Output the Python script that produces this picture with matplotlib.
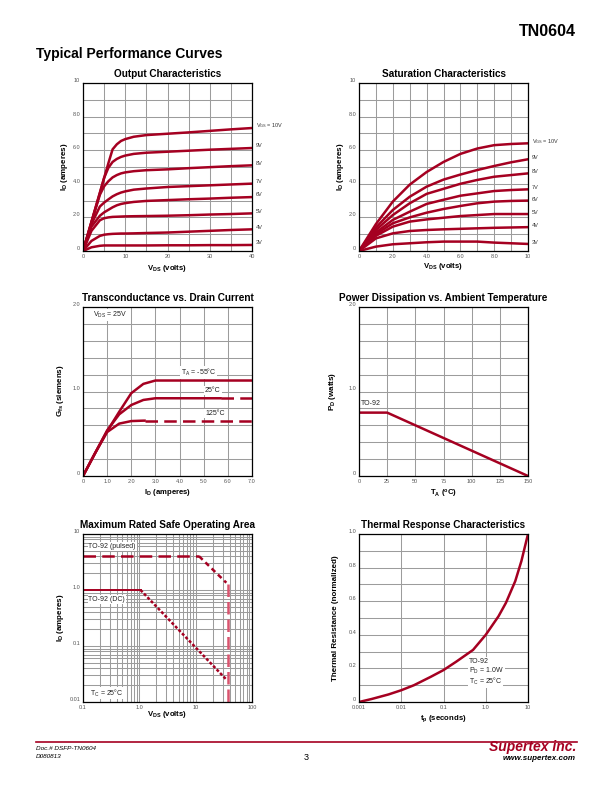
import numpy as np
import matplotlib
matplotlib.use('Agg')
import matplotlib.pyplot as plt
from matplotlib.lines import Line2D
from matplotlib.ticker import FixedLocator, FixedFormatter, NullLocator, NullFormatter

plt.rcParams['font.family'] = ['Liberation Sans', 'DejaVu Sans']
plt.rcParams['mathtext.fontset'] = 'custom'
plt.rcParams['mathtext.rm'] = 'Liberation Sans'
plt.rcParams['mathtext.it'] = 'Liberation Sans:italic'
plt.rcParams['mathtext.bf'] = 'Liberation Sans:bold'

# ---------------- data ----------------
# Output characteristics (I_D vs V_DS, several V_GS)
out_vds = [0, 2, 4, 5, 6, 7, 8, 9, 10, 12, 15, 20, 25, 30, 35, 40]
out_id_10v = [0, 1.74, 3.48, 4.35, 5.22, 6.05, 6.35, 6.55, 6.66, 6.80, 6.90, 6.98, 7.06, 7.15, 7.24, 7.32]
out_id_9v = [0, 1.72, 3.45, 4.35, 4.95, 5.30, 5.48, 5.60, 5.68, 5.78, 5.85, 5.91, 5.97, 6.03, 6.08, 6.13]
out_id_8v = [0, 1.70, 3.35, 3.85, 4.15, 4.38, 4.52, 4.62, 4.68, 4.75, 4.81, 4.86, 4.93, 4.99, 5.05, 5.10]
out_id_7v = [0, 1.60, 2.65, 2.88, 3.07, 3.25, 3.38, 3.48, 3.55, 3.65, 3.72, 3.81, 3.86, 3.91, 3.96, 4.01]
out_id_6v = [0, 1.45, 2.10, 2.30, 2.45, 2.60, 2.72, 2.80, 2.85, 2.92, 2.98, 3.03, 3.08, 3.12, 3.17, 3.21]
out_id_5v = [0, 1.20, 1.83, 1.95, 2.00, 2.03, 2.04, 2.05, 2.06, 2.07, 2.08, 2.10, 2.13, 2.17, 2.20, 2.24]
out_id_4v = [0, 0.60, 0.90, 0.97, 1.00, 1.02, 1.03, 1.04, 1.04, 1.05, 1.07, 1.10, 1.15, 1.20, 1.25, 1.29]
out_id_3v = [0, 0.22, 0.31, 0.33, 0.33, 0.33, 0.33, 0.33, 0.33, 0.33, 0.33, 0.34, 0.34, 0.35, 0.35, 0.36]
out_labels = ['V$_\\mathregular{GS}$ = 10V', '9V', '8V', '7V', '6V', '5V', '4V', '3V']

# Saturation characteristics
sat_vds = [0, 1, 2, 3, 4, 5, 6, 7, 8, 9, 10]
sat_id_10v = [0, 1.60, 2.94, 3.95, 4.70, 5.30, 5.78, 6.10, 6.30, 6.37, 6.41]
sat_id_9v = [0, 1.40, 2.44, 3.23, 3.83, 4.25, 4.55, 4.82, 5.06, 5.28, 5.46]
sat_id_8v = [0, 1.25, 2.14, 2.84, 3.40, 3.70, 4.00, 4.23, 4.42, 4.52, 4.62]
sat_id_7v = [0, 1.10, 1.85, 2.34, 2.80, 3.05, 3.29, 3.43, 3.57, 3.63, 3.67]
sat_id_6v = [0, 1.00, 1.65, 2.00, 2.28, 2.50, 2.68, 2.84, 2.94, 2.98, 3.00]
sat_id_5v = [0, 0.90, 1.45, 1.75, 1.88, 1.98, 2.08, 2.14, 2.20, 2.20, 2.20]
sat_id_4v = [0, 0.75, 1.05, 1.19, 1.25, 1.29, 1.32, 1.35, 1.38, 1.40, 1.42]
sat_id_3v = [0, 0.26, 0.40, 0.46, 0.52, 0.56, 0.56, 0.56, 0.50, 0.46, 0.42]

# Transconductance vs drain current
gfs_id = [0, 0.5, 1.0, 1.5, 2.0, 2.5, 3.0, 7.0]
gfs_m55 = [0, 0.27, 0.53, 0.76, 0.98, 1.09, 1.13, 1.13]
gfs_25 = [0, 0.27, 0.54, 0.73, 0.84, 0.90, 0.92, 0.92]
gfs_125 = [0, 0.27, 0.52, 0.62, 0.65, 0.655, 0.655, 0.655]
gfs_solid_end = [7.0, 5.7, 2.55]   # where the curves turn dashed

# Power dissipation vs ambient temperature
pd_ta = [0, 25, 150]
pd_w = [0.75, 0.75, 0.0]

# Safe operating area
soa_pulsed_v = [0.1, 11.5]
soa_pulsed_i = [4.0, 4.0]
soa_pulsed_knee_v = [11.5, 35]
soa_pulsed_knee_i = [4.0, 1.35]
soa_dc_flat_v = [0.1, 1.05]
soa_dc_flat_i = [1.0, 1.0]
soa_dc_diag_v = [1.05, 36]
soa_dc_diag_i = [1.0, 0.0245]
soa_bv_v = [37, 37]
soa_bv_i = [1.3, 0.01]

# Thermal response
th_t = [0.001, 0.002, 0.005, 0.01, 0.02, 0.05, 0.1, 0.2, 0.5, 1.0, 2.0, 3.0, 5.0, 7.0, 10.0]
th_r = [0.0, 0.018, 0.045, 0.07, 0.10, 0.15, 0.19, 0.24, 0.31, 0.40, 0.51, 0.59, 0.72, 0.84, 1.0]

# ---------------- figure ----------------
RED = '#a50021'
PINK = '#d9546e'
GRID = '#9c9c9c'
TICKC = '#555555'
W, H = 612, 792
fig = plt.figure(figsize=(W / 100, H / 100), dpi=100)


def fx(x):
    return x / W


def fy(y):
    return 1 - y / H


def add_axes(left, top, right, bottom):
    return fig.add_axes([fx(left), fy(bottom), (right - left) / W, (bottom - top) / H])


def style(ax):
    ax.tick_params(which='both', length=0, labelsize=4, labelcolor=TICKC, pad=2)
    ax.grid(True, which='both', color=GRID, lw=0.75)
    ax.set_axisbelow(True)
    for s in ax.spines.values():
        s.set_linewidth(0.9)
        s.set_color('black')
    for lbl in ax.get_yticklabels():
        lbl.set_va('bottom')


def set_lin_ticks(ax, xgrid, xlab, ygrid, ylab):
    ax.set_xticks(xgrid)
    ax.set_xticklabels(xlab)
    ax.set_yticks(ygrid)
    ax.set_yticklabels(ylab)


def title(ax_l, ax_r, y, s):
    fig.text(fx((ax_l + ax_r) / 2), fy(y), s, ha='center', va='center',
             fontsize=7.2, fontweight='bold')


def xlabel(x, y, s):
    fig.text(fx(x), fy(y), s, ha='center', va='center', fontsize=5.6, fontweight='bold')


def ylabel(x, y, s):
    fig.text(fx(x), fy(y), s, ha='center', va='center', fontsize=5.8,
             fontweight='bold', rotation=90)


LW = 1.8
C1L, C1R = 83, 252
C2L, C2R = 359, 528

# ---- Panel 1: Output characteristics ----
ax1 = add_axes(C1L, 83, C1R, 251)
out_curves = [out_id_10v, out_id_9v, out_id_8v, out_id_7v, out_id_6v, out_id_5v, out_id_4v, out_id_3v]
for ids, lab in zip(out_curves, out_labels):
    ax1.plot(out_vds, ids, color=RED, lw=LW, solid_capstyle='butt')
    ax1.annotate(lab, xy=(out_vds[-1], ids[-1]), xytext=(3, 1.5), textcoords='offset points',
                 fontsize=4, color='#333333', va='center', ha='left', annotation_clip=False)
ax1.set_xlim(0, 40)
ax1.set_ylim(0, 10)
set_lin_ticks(ax1, np.arange(0, 41, 5), ['0', '', '10', '', '20', '', '30', '', '40'],
              np.arange(0, 11, 1), ['0', '', '2.0', '', '4.0', '', '6.0', '', '8.0', '', '10'])
style(ax1)
title(C1L, C1R, 74, 'Output Characteristics')
xlabel((C1L + C1R) / 2, 269, 'V$_\\mathregular{DS}$ (volts)')
ylabel(65, 167, 'I$_\\mathregular{D}$ (amperes)')

# ---- Panel 2: Saturation characteristics ----
ax2 = add_axes(C2L, 83, C2R, 251)
sat_curves = [sat_id_10v, sat_id_9v, sat_id_8v, sat_id_7v, sat_id_6v, sat_id_5v, sat_id_4v, sat_id_3v]
for ids, lab in zip(sat_curves, out_labels):
    ax2.plot(sat_vds, ids, color=RED, lw=LW)
    ax2.annotate(lab, xy=(sat_vds[-1], ids[-1]), xytext=(3, 1), textcoords='offset points',
                 fontsize=4, color='#333333', va='center', ha='left', annotation_clip=False)
ax2.set_xlim(0, 10)
ax2.set_ylim(0, 10)
set_lin_ticks(ax2, np.arange(0, 11, 1), ['0', '', '2.0', '', '4.0', '', '6.0', '', '8.0', '', '10'],
              np.arange(0, 11, 1), ['0', '', '2.0', '', '4.0', '', '6.0', '', '8.0', '', '10'])
style(ax2)
title(C2L, C2R, 74, 'Saturation Characteristics')
xlabel((C2L + C2R) / 2, 267, 'V$_\\mathregular{DS}$ (volts)')
ylabel(341, 167, 'I$_\\mathregular{D}$ (amperes)')

# ---- Panel 3: Transconductance ----
ax3 = add_axes(C1L, 307, C1R, 476)
for g, end in zip([gfs_m55, gfs_25, gfs_125], gfs_solid_end):
    xs = np.array(gfs_id)
    ys = np.array(g)
    m = xs < end
    ax3.plot(np.append(xs[m], end), np.append(ys[m], ys[-1]), color=RED, lw=LW)
    if end < xs[-1]:
        ax3.plot([end, xs[-1]], [ys[-1], ys[-1]], color=RED, lw=LW, dashes=(5, 2.5))
ax3.set_xlim(0, 7)
ax3.set_ylim(0, 2)
set_lin_ticks(ax3, np.arange(0, 8, 1), ['0', '1.0', '2.0', '3.0', '4.0', '5.0', '6.0', '7.0'],
              np.arange(0, 2.01, 0.2), ['0', '', '', '', '', '1.0', '', '', '', '', '2.0'])
style(ax3)
bb = dict(facecolor='white', edgecolor='none', pad=0.6)
ax3.text(4.78, 1.225, 'T$_\\mathregular{A}$ = -55°C', fontsize=5, ha='center', va='center', bbox=bb, color='#222222')
ax3.text(5.38, 1.01, '25°C', fontsize=5, ha='center', va='center', bbox=bb, color='#222222')
ax3.text(5.47, 0.743, '125°C', fontsize=5, ha='center', va='center', bbox=bb, color='#222222')
ax3.text(1.11, 1.91, 'V$_\\mathregular{DS}$ = 25V', fontsize=5, ha='center', va='center', bbox=bb, color='#222222')
title(C1L, C1R, 298, 'Transconductance vs. Drain Current')
xlabel((C1L + C1R) / 2, 492, 'I$_\\mathregular{D}$ (amperes)')
ylabel(61, 391, 'G$_\\mathregular{fs}$ (siemens)')

# ---- Panel 4: Power dissipation ----
ax4 = add_axes(C2L, 307, C2R, 476)
ax4.plot(pd_ta, pd_w, color=RED, lw=LW)
ax4.set_xlim(0, 150)
ax4.set_ylim(0, 2)
set_lin_ticks(ax4, np.arange(0, 151, 25), ['0', '25', '50', '75', '100', '125', '150'],
              np.arange(0, 2.01, 0.2), ['0', '', '', '', '', '1.0', '', '', '', '', '2.0'])
style(ax4)
ax4.text(2, 0.86, 'TO-92', fontsize=5, ha='left', va='center', color='#222222')
title(C2L, C2R, 298, 'Power Dissipation vs. Ambient Temperature')
xlabel((C2L + C2R) / 2, 494, 'T$_\\mathregular{A}$ ($^\\mathregular{o}$C)')
ylabel(333, 391, 'P$_\\mathregular{D}$ (watts)')

# ---- Panel 5: Safe operating area ----
ax5 = add_axes(C1L, 534, C1R, 702)
ax5.set_xscale('log')
ax5.set_yscale('log')
ax5.plot(soa_pulsed_v, soa_pulsed_i, color=RED, lw=LW, dashes=(5, 2.5))
ax5.plot(soa_pulsed_knee_v, soa_pulsed_knee_i, color=RED, lw=LW, dashes=(2, 1.5))
ax5.plot(soa_dc_flat_v, soa_dc_flat_i, color=RED, lw=1.4)
ax5.plot(soa_dc_diag_v, soa_dc_diag_i, color=RED, lw=LW, dashes=(1.2, 0.8))
ax5.plot(soa_bv_v, soa_bv_i, color=PINK, lw=LW, dashes=(5, 2))
ax5.set_xlim(0.1, 100)
ax5.set_ylim(0.01, 10)
ax5.xaxis.set_major_locator(FixedLocator([0.1, 1, 10, 100]))
ax5.xaxis.set_major_formatter(FixedFormatter(['0.1', '1.0', '10', '100']))
ax5.yaxis.set_major_locator(FixedLocator([0.01, 0.1, 1, 10]))
ax5.yaxis.set_major_formatter(FixedFormatter(['0.01', '0.1', '1.0', '10']))
minor_x = [m * d for d in [0.1, 1, 10] for m in range(2, 10)]
minor_y = [m * d for d in [0.01, 0.1, 1] for m in range(2, 10)]
ax5.xaxis.set_minor_locator(FixedLocator(minor_x))
ax5.yaxis.set_minor_locator(FixedLocator(minor_y))
ax5.xaxis.set_minor_formatter(NullFormatter())
ax5.yaxis.set_minor_formatter(NullFormatter())
style(ax5)
ax5.text(0.125, 5.9, 'TO-92 (pulsed)', fontsize=5, ha='left', va='center', bbox=bb, color='#222222')
ax5.text(0.125, 0.68, 'TO-92 (DC)', fontsize=5, ha='left', va='center', bbox=bb, color='#222222')
ax5.text(0.135, 0.0145, 'T$_\\mathregular{C}$ = 25°C', fontsize=5, ha='left', va='center', bbox=bb, color='#222222')
title(C1L, C1R, 525.5, 'Maximum Rated Safe Operating Area')
xlabel((C1L + C1R) / 2, 714, 'V$_\\mathregular{DS}$ (volts)')
ylabel(60, 618, 'I$_\\mathregular{D}$ (amperes)')

# ---- Panel 6: Thermal response ----
ax6 = add_axes(C2L, 534, C2R, 702)
ax6.set_xscale('log')
ax6.plot(th_t, th_r, color=RED, lw=LW)
ax6.set_xlim(0.001, 10)
ax6.set_ylim(0, 1)
ax6.xaxis.set_major_locator(FixedLocator([0.001, 0.01, 0.1, 1, 10]))
ax6.xaxis.set_major_formatter(FixedFormatter(['0.001', '0.01', '0.1', '1.0', '10']))
ax6.xaxis.set_minor_locator(NullLocator())
ax6.set_yticks(np.arange(0, 1.01, 0.1))
ax6.set_yticklabels(['0', '', '0.2', '', '0.4', '', '0.6', '', '0.8', '', '1.0'])
style(ax6)
ax6.text(0.4, 0.24, 'TO-92', fontsize=5, ha='left', va='center', bbox=bb, color='#222222')
ax6.text(0.4, 0.185, 'P$_\\mathregular{D}$ = 1.0W', fontsize=5, ha='left', va='center', bbox=bb, color='#222222')
ax6.text(0.4, 0.122, 'T$_\\mathregular{C}$ = 25°C', fontsize=5, ha='left', va='center', bbox=bb, color='#222222')
title(C2L, C2R, 525, 'Thermal Response Characteristics')
xlabel((C2L + C2R) / 2, 719, 't$_\\mathregular{p}$ (seconds)')
ylabel(335, 618, 'Thermal Resistance (normalized)')

# ---- header & footer ----
fig.text(fx(576), fy(31), 'TN0604', ha='right', va='center', fontsize=11.5, fontweight='bold')
fig.text(fx(36), fy(54), 'Typical Performance Curves', ha='left', va='center', fontsize=10, fontweight='bold')

fig.add_artist(Line2D([fx(36), fx(577)], [fy(742), fy(742)], color=RED, lw=1.2))
fig.text(fx(36), fy(748.5), 'Doc.# DSFP-TN0604', ha='left', va='center', fontsize=4.6, style='italic')
fig.text(fx(36), fy(756), 'D080813', ha='left', va='center', fontsize=4.6, style='italic')
fig.text(fx(306), fy(758), '3', ha='center', va='center', fontsize=6.5)
fig.text(fx(576), fy(747), 'Supertex inc.', ha='right', va='center', fontsize=10,
         fontweight='bold', style='italic', color=RED)
fig.text(fx(576), fy(758), 'www.supertex.com', ha='right', va='center', fontsize=5.8,
         fontweight='bold', style='italic')

fig.savefig('out.png', dpi=100)
